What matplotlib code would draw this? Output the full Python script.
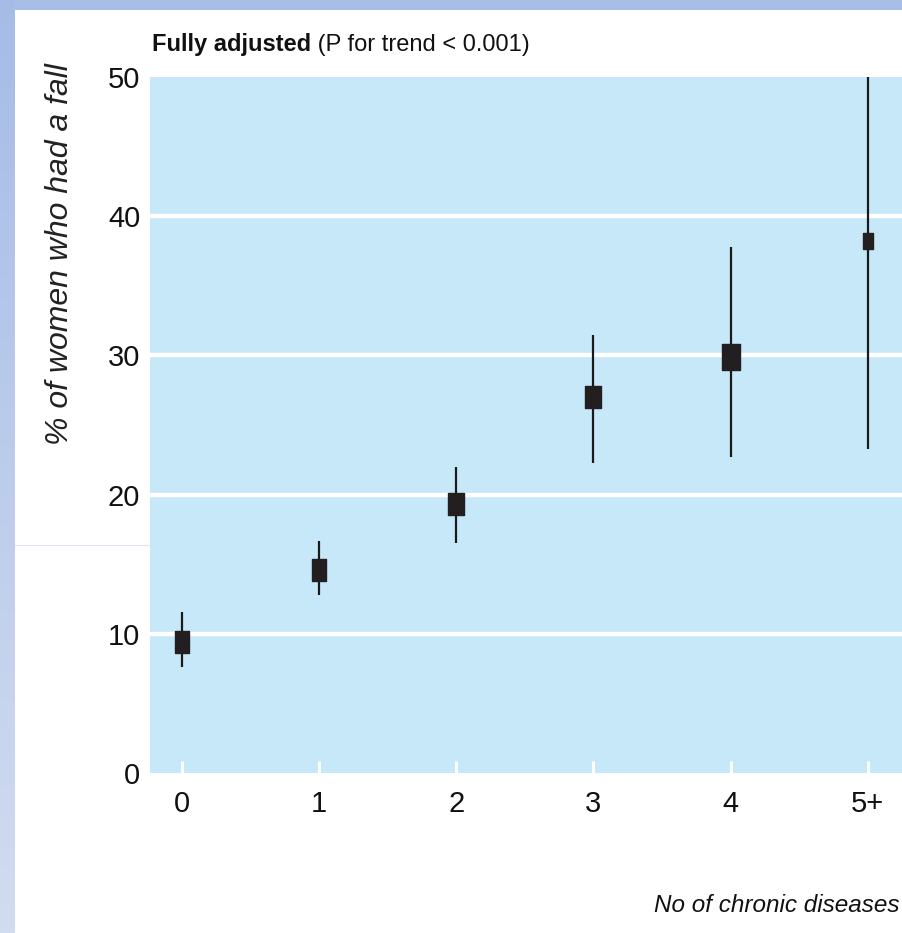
import matplotlib
matplotlib.use("Agg")
import matplotlib.pyplot as plt
import numpy as np
from matplotlib.lines import Line2D
from matplotlib.patches import Rectangle
from matplotlib.path import Path

categories = ["0", "1", "2", "3", "4", "5+"]
pct_fall = [9.4, 14.6, 19.3, 27.0, 29.9, 38.2]
ci_low = [7.6, 12.8, 16.5, 22.3, 22.7, 23.3]
ci_high = [11.6, 16.7, 22.0, 31.5, 37.8, 50.0]
yticks = [0, 10, 20, 30, 40, 50]
# marker box size in points (width, height)
box_w = [10, 10, 11, 11.5, 13, 7]
box_h = [16, 16, 16, 16, 19, 12]

SANS = ["Liberation Sans", "DejaVu Sans"]

W, H = 902, 933
fig = plt.figure(figsize=(W / 100, H / 100), dpi=100)
fig.patch.set_facecolor("white")

# slide-like background strips
top = Rectangle((0, (H - 10) / H), 1, 10 / H, transform=fig.transFigure,
                facecolor="#a8bee6", edgecolor="none", zorder=0)
fig.add_artist(top)
grad = np.linspace(0, 1, 256).reshape(-1, 1)
gax = fig.add_axes([0, 0, 15 / W, 1])
c_top = np.array([0xa6, 0xbc, 0xe6]) / 255
c_bot = np.array([0xd2, 0xdc, 0xf0]) / 255
img = c_top[None, None, :] * (1 - grad[:, :, None]) + c_bot[None, None, :] * grad[:, :, None]
gax.imshow(img, aspect="auto", extent=[0, 1, 1, 0])
gax.axis("off")
fig.add_artist(Line2D([15 / W, 150 / W], [(H - 545) / H] * 2, transform=fig.transFigure,
                      color="#dfe3f2", lw=0.8))

ax = fig.add_axes([150 / W, (H - 773) / H, (W - 150) / W, (773 - 77) / H])
ax.set_facecolor("#c6e8f8")
x = np.arange(len(categories))
ax.set_xlim(-0.233, 5.25)
ax.set_ylim(0, 50)

for yv in yticks[1:-1]:
    ax.axhline(yv, color="white", lw=3.2, zorder=1)

for i in range(len(categories)):
    ax.plot([x[i], x[i]], [ci_low[i], ci_high[i]], color="#1a1a1a", lw=1.6,
            solid_capstyle="butt", zorder=3)
    verts = [(-box_w[i] / 2, -box_h[i] / 2), (box_w[i] / 2, -box_h[i] / 2),
             (box_w[i] / 2, box_h[i] / 2), (-box_w[i] / 2, box_h[i] / 2), (0, 0)]
    codes = [Path.MOVETO, Path.LINETO, Path.LINETO, Path.LINETO, Path.CLOSEPOLY]
    mk = Path(verts, codes)
    ax.plot(x[i], pct_fall[i], marker=mk, linestyle="none", color="#231f20",
            markersize=max(box_w[i], box_h[i]), zorder=5)

for s in ax.spines.values():
    s.set_visible(False)

ax.set_xticks(x)
ax.set_xticklabels(categories)
ax.set_yticks(yticks)
ax.tick_params(axis="x", direction="in", length=9, width=2.2, color="white",
               pad=12, labelsize=21)
ax.tick_params(axis="y", length=0, pad=7, labelsize=21)
for lab in ax.get_xticklabels() + ax.get_yticklabels():
    lab.set_family(SANS)
    lab.set_color("#111111")

t1 = fig.text(152 / W, (H - 45) / H, "Fully adjusted", family=SANS, weight="bold",
              fontsize=17, va="center", ha="left", color="#111111")
ax.annotate(" (P for trend < 0.001)", xy=(1, 0.5), xycoords=t1, va="center",
            ha="left", family=SANS, fontsize=17, color="#111111",
            annotation_clip=False)

fig.text(60 / W, (H - 254) / H, "% of women who had a fall", family=SANS,
         style="italic", fontsize=23, rotation=90, va="center", ha="center",
         color="#222222")
fig.text(900 / W, (H - 905) / H, "No of chronic diseases", family=SANS,
         style="italic", fontsize=17.5, va="center", ha="right", color="#111111")

fig.savefig("out.png", dpi=100)
